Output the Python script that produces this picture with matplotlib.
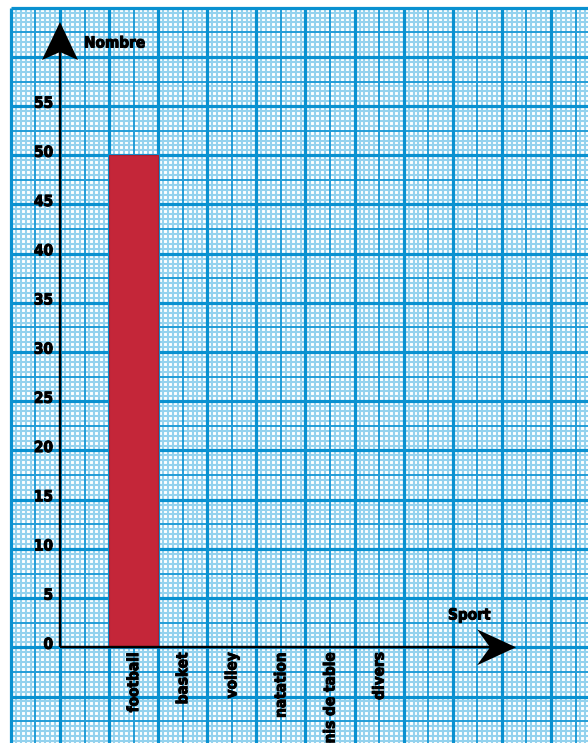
import numpy as np
import matplotlib
matplotlib.use("Agg")
import matplotlib.pyplot as plt
import matplotlib.patheffects as pe
from matplotlib.patches import Polygon

# data
sports = ["football", "basket", "volley", "natation", "Tennis de table", "divers"]
counts = [50, None, None, None, None, None]   # only football is filled in
y_ticks = [0, 5, 10, 15, 20, 25, 30, 35, 40, 45, 50, 55]

# page geometry (pixels per unit on each axis)
W, H = 588, 743
PX_X = 49.1      # one sport column
PX_Y = 9.84      # one person
ORIG_X, ORIG_Y = 60, 647.3

plt.rcParams['font.family'] = ['DejaVu Sans']
plt.rcParams['font.stretch'] = 'condensed'

fig = plt.figure(figsize=(W / 100, H / 100), dpi=100)
ax = fig.add_axes([0, 0, 1, 1])
x0, x1 = -ORIG_X / PX_X, (W - ORIG_X) / PX_X
y0, y1 = (ORIG_Y - H) / PX_Y, ORIG_Y / PX_Y
ax.set_xlim(x0, x1)
ax.set_ylim(y0, y1)
ax.axis("off")

# graph paper: minor, half and major lines
pl, pt = -1, 65
minor_c, mid_c, major_c = "#94d2ee", "#239dd7", "#0a91d0"
xs = np.arange(pl, x1 + 0.01, 0.1)
ys = np.arange(pt, y0 - 0.01, -0.5)
for x in xs:
    k = round(x * 10)
    if k % 10 == 0:
        c, lw, z = major_c, 2.3, 3
    elif k % 5 == 0:
        c, lw, z = mid_c, 1.4, 2
    else:
        c, lw, z = minor_c, 1.5, 1
    ax.plot([x, x], [y0, pt], color=c, lw=lw, zorder=z, solid_capstyle="butt")
for y in ys:
    k = round(y * 2)
    if k % 10 == 0:
        c, lw, z = major_c, 2.3, 3
    elif k % 5 == 0:
        c, lw, z = mid_c, 1.4, 2
    else:
        c, lw, z = minor_c, 1.5, 1
    ax.plot([pl, x1], [y, y], color=c, lw=lw, zorder=z, solid_capstyle="butt")

# bars
pos = np.arange(len(sports)) + 1.5
for p, v in zip(pos, counts):
    if v:
        ax.bar(p, v, width=1.0, color="#c42639", edgecolor="#b01e30",
               linewidth=0.8, zorder=5)

# axes with arrow heads (shapes given in pixels)
ux, uy = 1 / PX_X, 1 / PX_Y
ytip = (ORIG_Y - 22) / PX_Y
xtip = (516 - ORIG_X) / PX_X
ax.plot([0, 0], [0, ytip - 30 * uy], color="black", lw=1.7, zorder=6,
        solid_capstyle="butt")
ax.plot([0, xtip - 26 * ux], [0, 0], color="black", lw=1.7, zorder=6,
        solid_capstyle="butt")
ax.add_patch(Polygon([(0, ytip), (18 * ux, ytip - 38 * uy), (0, ytip - 30 * uy),
                      (-18 * ux, ytip - 38 * uy)], closed=True,
                     facecolor="black", edgecolor="none", zorder=7))
ax.add_patch(Polygon([(xtip, 0), (xtip - 39 * ux, 18 * uy), (xtip - 26 * ux, 0),
                      (xtip - 39 * ux, -18 * uy)], closed=True,
                     facecolor="black", edgecolor="none", zorder=7))

# labels, thickened a little with a stroke
fs = 11
heavy = dict(fontsize=fs, fontweight="bold", zorder=8,
             path_effects=[pe.withStroke(linewidth=0.7, foreground="black")])
for t in y_ticks:
    ax.text(-7 * ux, t + 0.3, str(t), ha="right", va="center", **heavy)
for p, s in zip(pos, sports):
    ax.text(p, -0.5, s, rotation=90, ha="center", va="top", **heavy)
ax.text(24 * ux, (ORIG_Y - 43) / PX_Y, "Nombre", ha="left", va="center", **heavy)
ax.text((448 - ORIG_X) / PX_X, (ORIG_Y - 615) / PX_Y, "Sport", ha="left",
        va="center", **heavy)

fig.savefig("out.png", dpi=100)
